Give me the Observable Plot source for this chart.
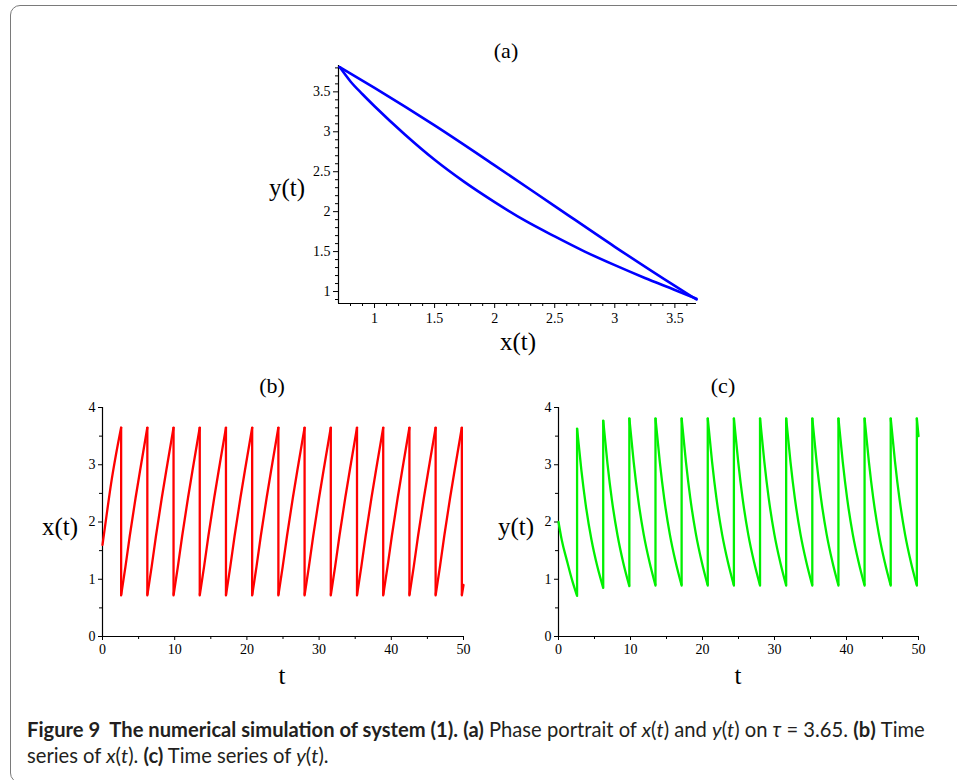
<!DOCTYPE html>
<html>
<head>
<meta charset="utf-8">
<script src="https://cdn.jsdelivr.net/npm/d3@7"></script>
<script src="https://cdn.jsdelivr.net/npm/@observablehq/plot@0.6"></script>
<style>
  html, body { margin: 0; padding: 0; background: #fff; }
  #fig { position: relative; width: 957px; height: 780px; overflow: hidden; background: #fff; }
  #frame { position: absolute; left: 10px; top: 5px; width: 1000px; height: 778px;
           border: 1.5px solid #7a7a7a; border-radius: 10px; box-sizing: border-box; }
  .panel { position: absolute; }
  .lbl { position: absolute; transform: translate(-50%, -50%); font-family: "Liberation Serif", "Times New Roman", serif;
         color: #000; line-height: 1; white-space: nowrap; }
  #caption { position: absolute; left: 27px; top: 716px; font-family: "Lato", "Noto Sans", sans-serif;
             font-size: 17px; line-height: 26px; color: #231f20; white-space: nowrap; }
  #caption b { font-weight: 700; }
  #caption .ln { display: inline-block; }
</style>
</head>
<body>
<div id="fig">
  <div id="frame"></div>
  <div id="pa" class="panel" style="left:250px; top:40px;"></div>
  <div id="pb" class="panel" style="left:40px; top:395px;"></div>
  <div id="pc" class="panel" style="left:500px; top:395px;"></div>

  <div class="lbl" style="left:506px; top:51px; font-size:22px;">(a)</div>
  <div class="lbl" style="left:287px; top:187px; font-size:25px;">y(t)</div>
  <div class="lbl" style="left:518px; top:341px; font-size:25px;">x(t)</div>

  <div class="lbl" style="left:272px; top:386px; font-size:22px;">(b)</div>
  <div class="lbl" style="left:60px; top:526px; font-size:25px;">x(t)</div>
  <div class="lbl" style="left:282px; top:675px; font-size:25px;">t</div>

  <div class="lbl" style="left:723px; top:386px; font-size:22px;">(c)</div>
  <div class="lbl" style="left:516px; top:526px; font-size:25px;">y(t)</div>
  <div class="lbl" style="left:738px; top:675px; font-size:25px;">t</div>

  <div id="caption">
    <div><span class="ln" id="cap1"><b>Figure 9&nbsp; The numerical simulation of system (1).</b> <b>(a)</b> Phase portrait of <i>x</i>(<i>t</i>) and <i>y</i>(<i>t</i>) on <i>τ</i> = 3.65. <b>(b)</b> Time</span></div>
    <div><span class="ln" id="cap2">series of <i>x</i>(<i>t</i>). <b>(c)</b> Time series of <i>y</i>(<i>t</i>).</span></div>
  </div>
</div>
<script>
// ---------- Panel (a): phase portrait ----------
const phaseXDomain = [0.70, 3.68];
const phaseYDomain = [0.85, 3.83];
const phaseXTicks = [1, 1.5, 2, 2.5, 3, 3.5];
const phaseXMinor = [0.8, 0.9, 1.1, 1.2, 1.3, 1.4, 1.6, 1.7, 1.8, 1.9, 2.1, 2.2, 2.3, 2.4, 2.6, 2.7, 2.8, 2.9, 3.1, 3.2, 3.3, 3.4, 3.6];
const phaseYTicks = [1, 1.5, 2, 2.5, 3, 3.5];
const phaseYMinor = [0.9, 1.1, 1.2, 1.3, 1.4, 1.6, 1.7, 1.8, 1.9, 2.1, 2.2, 2.3, 2.4, 2.6, 2.7, 2.8, 2.9, 3.1, 3.2, 3.3, 3.4, 3.6, 3.7, 3.8];
// lower branch (continuous flow)
const flowX = [0.71, 0.8, 0.9, 1.0, 1.25, 1.5, 1.75, 2.0, 2.25, 2.5, 2.75, 3.0, 3.25, 3.5, 3.68];
const flowY = [3.81, 3.63, 3.47, 3.32, 2.97, 2.65, 2.37, 2.12, 1.89, 1.69, 1.50, 1.33, 1.17, 1.02, 0.91];
// upper branch (return)
const returnX = [0.71, 1.0, 1.5, 2.0, 2.5, 3.0, 3.5, 3.68];
const returnY = [3.81, 3.55, 3.08, 2.58, 2.07, 1.56, 1.07, 0.90];

// ---------- Panels (b) and (c): time series ----------
const timeTicks = [0, 10, 20, 30, 40, 50];
const timeMinor = [5, 15, 25, 35, 45];
const valueTicks = [0, 1, 2, 3, 4];
const valueMinor = [0.5, 1.5, 2.5, 3.5];

// a repeated time marks a jump
const xTimes = [
  0, 0.6, 1.2, 1.9, 2.58,
  2.58, 3.18, 3.78, 4.58, 5.38, 6.21,
  6.21, 6.81, 7.41, 8.21, 9.01, 9.84,
  9.84, 10.44, 11.04, 11.84, 12.64, 13.47,
  13.47, 14.07, 14.67, 15.47, 16.27, 17.10,
  17.10, 17.70, 18.30, 19.10, 19.90, 20.73,
  20.73, 21.33, 21.93, 22.73, 23.53, 24.36,
  24.36, 24.96, 25.56, 26.36, 27.16, 27.99,
  27.99, 28.59, 29.19, 29.99, 30.79, 31.62,
  31.62, 32.22, 32.82, 33.62, 34.42, 35.25,
  35.25, 35.85, 36.45, 37.25, 38.05, 38.88,
  38.88, 39.48, 40.08, 40.88, 41.68, 42.51,
  42.51, 43.11, 43.71, 44.51, 45.31, 46.14,
  46.14, 46.74, 47.34, 48.14, 48.94, 49.77,
  49.77, 50.0
];
const xValues = [
  1.60, 2.15, 2.68, 3.20, 3.65,
  0.72, 1.22, 1.76, 2.42, 3.03, 3.65,
  0.72, 1.22, 1.76, 2.42, 3.03, 3.65,
  0.72, 1.22, 1.76, 2.42, 3.03, 3.65,
  0.72, 1.22, 1.76, 2.42, 3.03, 3.65,
  0.72, 1.22, 1.76, 2.42, 3.03, 3.65,
  0.72, 1.22, 1.76, 2.42, 3.03, 3.65,
  0.72, 1.22, 1.76, 2.42, 3.03, 3.65,
  0.72, 1.22, 1.76, 2.42, 3.03, 3.65,
  0.72, 1.22, 1.76, 2.42, 3.03, 3.65,
  0.72, 1.22, 1.76, 2.42, 3.03, 3.65,
  0.72, 1.22, 1.76, 2.42, 3.03, 3.65,
  0.72, 1.22, 1.76, 2.42, 3.03, 3.65,
  0.72, 1.22, 1.76, 2.42, 3.03, 3.65,
  0.72, 0.90
];
const yTimes = [
  0, 0.46, 1.16, 1.9, 2.58,
  2.58, 3.18, 3.78, 4.58, 5.38, 6.21,
  6.21, 6.81, 7.41, 8.21, 9.01, 9.84,
  9.84, 10.44, 11.04, 11.84, 12.64, 13.47,
  13.47, 14.07, 14.67, 15.47, 16.27, 17.10,
  17.10, 17.70, 18.30, 19.10, 19.90, 20.73,
  20.73, 21.33, 21.93, 22.73, 23.53, 24.36,
  24.36, 24.96, 25.56, 26.36, 27.16, 27.99,
  27.99, 28.59, 29.19, 29.99, 30.79, 31.62,
  31.62, 32.22, 32.82, 33.62, 34.42, 35.25,
  35.25, 35.85, 36.45, 37.25, 38.05, 38.88,
  38.88, 39.48, 40.08, 40.88, 41.68, 42.51,
  42.51, 43.11, 43.71, 44.51, 45.31, 46.14,
  46.14, 46.74, 47.34, 48.14, 48.94, 49.77,
  49.77, 50.0
];
const yValues = [
  2.00, 1.68, 1.33, 0.98, 0.71,
  3.63, 2.90, 2.30, 1.69, 1.23, 0.85,
  3.77, 3.01, 2.39, 1.76, 1.28, 0.88,
  3.81, 3.05, 2.42, 1.78, 1.30, 0.89,
  3.81, 3.05, 2.42, 1.78, 1.30, 0.89,
  3.81, 3.05, 2.42, 1.78, 1.30, 0.89,
  3.81, 3.05, 2.42, 1.78, 1.30, 0.89,
  3.81, 3.05, 2.42, 1.78, 1.30, 0.89,
  3.81, 3.05, 2.42, 1.78, 1.30, 0.89,
  3.81, 3.05, 2.42, 1.78, 1.30, 0.89,
  3.81, 3.05, 2.42, 1.78, 1.30, 0.89,
  3.81, 3.05, 2.42, 1.78, 1.30, 0.89,
  3.81, 3.05, 2.42, 1.78, 1.30, 0.89,
  3.81, 3.05, 2.42, 1.78, 1.30, 0.89,
  3.81, 3.50
];

// split a series into continuous stretches and jumps
function split(ts, vs) {
  const rows = [], jumps = [];
  let seg = 0;
  for (let i = 0; i < ts.length; i++) {
    if (i > 0 && ts[i] === ts[i - 1]) {
      seg++;
      jumps.push({t: ts[i], from: vs[i - 1], to: vs[i]});
    }
    rows.push({t: ts[i], v: vs[i], seg});
  }
  return {rows, jumps};
}

const blank = () => "";
const plain = d => String(d);
const FONT = "'Liberation Serif', 'Times New Roman', serif";
const baseStyle = {fontFamily: FONT, color: "#000", background: "transparent", overflow: "visible"};

// ---- (a) ----
const flowRows = flowX.map((x, i) => ({x, y: flowY[i]}));
const returnRows = returnX.map((x, i) => ({x, y: returnY[i]}));
const plotA = Plot.plot({
  width: 480, height: 300,
  marginLeft: 88, marginRight: 34, marginTop: 25, marginBottom: 37,
  x: {domain: phaseXDomain},
  y: {domain: phaseYDomain},
  style: baseStyle,
  marks: [
    Plot.axisX({ticks: phaseXTicks, tickSize: 5, tickPadding: 5, tickFormat: plain, fontSize: 14, fontFamily: FONT, label: null}),
    Plot.axisX({ticks: phaseXMinor, tickSize: 3, tickFormat: blank, label: null}),
    Plot.axisY({ticks: phaseYTicks, tickSize: 5, tickPadding: 3, tickFormat: plain, fontSize: 14, fontFamily: FONT, label: null}),
    Plot.axisY({ticks: phaseYMinor, tickSize: 3, tickFormat: blank, label: null}),
    Plot.ruleY([phaseYDomain[0]], {stroke: "#000", strokeWidth: 1.2}),
    Plot.ruleX([phaseXDomain[0]], {stroke: "#000", strokeWidth: 1.2}),
    Plot.line(flowRows, {x: "x", y: "y", stroke: "#0000ff", strokeWidth: 2.6, curve: "monotone-x"}),
    Plot.line(returnRows, {x: "x", y: "y", stroke: "#0000ff", strokeWidth: 2.6, curve: "monotone-x"})
  ]
});
document.getElementById("pa").appendChild(plotA);

// ---- (b) and (c) ----
function timePlot(ts, vs, color, ml, mr) {
  const {rows, jumps} = split(ts, vs);
  return Plot.plot({
    width: 440, height: 270,
    marginLeft: ml, marginRight: mr, marginTop: 12, marginBottom: 29,
    x: {domain: [0, 50]},
    y: {domain: [0, 4]},
    style: baseStyle,
    marks: [
      Plot.axisX({ticks: timeTicks, tickSize: 4, tickPadding: 4, tickFormat: plain, fontSize: 14, fontFamily: FONT, label: null}),
      Plot.axisX({ticks: timeMinor, tickSize: 3, tickFormat: blank, label: null}),
      Plot.axisY({ticks: valueTicks, tickSize: 4, tickPadding: 3, tickFormat: plain, fontSize: 14, fontFamily: FONT, label: null}),
      Plot.axisY({ticks: valueMinor, tickSize: 3, tickFormat: blank, label: null}),
      Plot.ruleY([0], {stroke: "#000", strokeWidth: 1.2}),
      Plot.ruleX([0], {stroke: "#000", strokeWidth: 1.2}),
      Plot.line(rows, {x: "t", y: "v", z: "seg", stroke: color, strokeWidth: 2.3, curve: "monotone-x"}),
      Plot.ruleX(jumps, {x: "t", y1: "from", y2: "to", stroke: color, strokeWidth: 2.3})
    ]
  });
}
document.getElementById("pb").appendChild(timePlot(xTimes, xValues, "#ff0000", 62, 17));
document.getElementById("pc").appendChild(timePlot(yTimes, yValues, "#00f000", 58, 22));

// scale the caption font so line 1 spans the original's width (27 → 925 px)
(function fitCaption() {
  const target = 898;
  const cap = document.getElementById("caption");
  const l1 = document.getElementById("cap1");
  const w = l1.getBoundingClientRect().width;
  const fs = 17 * target / w;
  cap.style.fontSize = fs.toFixed(2) + "px";
})();
</script>
</body>
</html>
